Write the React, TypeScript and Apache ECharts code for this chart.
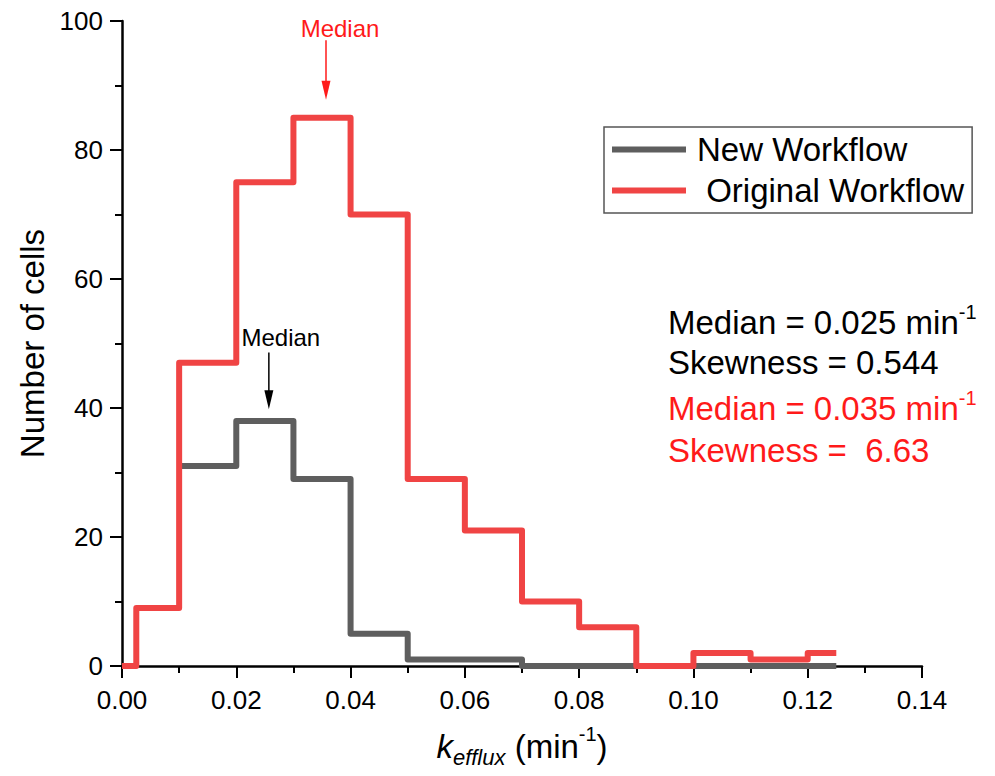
import React, { useEffect, useRef } from 'react';
import * as echarts from 'echarts';

const binEdges = [0, 0.0025, 0.01, 0.02, 0.03, 0.04, 0.05, 0.06, 0.07, 0.08, 0.09, 0.1, 0.11, 0.12, 0.125];
const newWorkflow: (number | null)[] = [null, null, 31, 38, 29, 5, 1, 1, 0, 0, 0, 0, 0, 0];
const originalWorkflow: (number | null)[] = [0, 9, 47, 75, 85, 70, 29, 21, 10, 6, 0, 2, 1, 2];
const seriesNames = ['New Workflow', ' Original Workflow'];
const statLines = [
  { text: 'Median = 0.025 min{sup|-1}', color: '#000000' },
  { text: 'Skewness = 0.544', color: '#000000' },
  { text: 'Median = 0.035 min{sup|-1}', color: '#ff1a1a' },
  { text: 'Skewness =  6.63', color: '#ff1a1a' },
];
const medianNew = 0.0257;
const medianOrig = 0.0357;

const FONT = '"Liberation Sans", Arial, Helvetica, sans-serif';

function toSteps(values: (number | null)[]) {
  const pts: (number | null)[][] = values.map((v, i) => [binEdges[i], v]);
  pts.push([binEdges[values.length], values[values.length - 1]]);
  return pts;
}

export default function App() {
  const ref = useRef<HTMLDivElement>(null);
  useEffect(() => {
    document.body.style.margin = '0';
    const chart = echarts.init(ref.current!, null, { renderer: 'svg' });
    chart.setOption({
      animation: false,
      backgroundColor: '#ffffff',
      textStyle: { fontFamily: FONT },
      grid: { left: 122, right: 73, top: 21, bottom: 110, containLabel: false },
      legend: {
        data: seriesNames,
        orient: 'vertical',
        left: 604,
        top: 127,
        icon: 'rect',
        itemWidth: 74,
        itemHeight: 6,
        itemGap: 8,
        padding: [6, 8, 6, 8],
        borderColor: '#555555',
        borderWidth: 1.5,
        textStyle: { fontSize: 33, color: '#000', fontFamily: FONT, padding: [0, 0, 0, 6] },
      },
      xAxis: {
        type: 'value',
        min: 0,
        max: 0.14,
        interval: 0.02,
        name: '{k|k}{sub|efflux} (min{sup|-1})',
        nameLocation: 'middle',
        nameGap: 58,
        nameTextStyle: {
          fontSize: 33,
          color: '#000',
          fontFamily: FONT,
          lineHeight: 44,
          rich: {
            k: { fontSize: 33, fontStyle: 'italic', fontFamily: FONT, color: '#000', lineHeight: 44 },
            sub: { fontSize: 22, fontStyle: 'italic', fontFamily: FONT, color: '#000', verticalAlign: 'bottom', lineHeight: 22 },
            sup: { fontSize: 20, fontFamily: FONT, color: '#000', verticalAlign: 'top', lineHeight: 20 },
          },
        },
        axisLine: { lineStyle: { color: '#000', width: 2.5 } },
        axisTick: { length: 12, lineStyle: { color: '#000', width: 2 } },
        minorTick: { show: true, splitNumber: 2, length: 7, lineStyle: { color: '#000', width: 2 } },
        splitLine: { show: false },
        axisLabel: {
          fontSize: 26,
          color: '#000',
          fontFamily: FONT,
          margin: 21,
          formatter: (v: number) => v.toFixed(2),
        },
      },
      yAxis: {
        type: 'value',
        min: 0,
        max: 100,
        interval: 20,
        name: 'Number of cells',
        nameLocation: 'middle',
        nameGap: 72,
        nameTextStyle: { fontSize: 33, color: '#000', fontFamily: FONT },
        axisLine: { show: true, lineStyle: { color: '#000', width: 2.5 } },
        axisTick: { show: true, length: 12, lineStyle: { color: '#000', width: 2 } },
        minorTick: { show: true, splitNumber: 2, length: 7, lineStyle: { color: '#000', width: 2 } },
        splitLine: { show: false },
        axisLabel: { fontSize: 26, color: '#000', fontFamily: FONT, margin: 19 },
      },
      series: [
        {
          name: seriesNames[0],
          type: 'line',
          step: 'end',
          data: toSteps(newWorkflow),
          connectNulls: false,
          showSymbol: false,
          symbol: 'none',
          itemStyle: { color: '#5e5e5e' },
          lineStyle: { color: '#5e5e5e', width: 6, join: 'round' },
          z: 2,
        },
        {
          name: seriesNames[1],
          type: 'line',
          step: 'end',
          data: toSteps(originalWorkflow),
          showSymbol: false,
          symbol: 'none',
          itemStyle: { color: '#f04444' },
          lineStyle: { color: '#f04444', width: 6, join: 'round' },
          z: 3,
        },
      ],
    });

    const redTop = chart.convertToPixel({ gridIndex: 0 }, [medianOrig, 97]) as number[];
    const redTip = chart.convertToPixel({ gridIndex: 0 }, [medianOrig, 87.8]) as number[];
    const blkTop = chart.convertToPixel({ gridIndex: 0 }, [medianNew, 48.6]) as number[];
    const blkTip = chart.convertToPixel({ gridIndex: 0 }, [medianNew, 39.8]) as number[];

    const arrow = (top: number[], tip: number[], color: string) => [
      {
        type: 'line',
        shape: { x1: top[0], y1: top[1], x2: tip[0], y2: tip[1] - 14 },
        style: { stroke: color, lineWidth: 1.5 },
        silent: true,
      },
      {
        type: 'polygon',
        shape: { points: [[tip[0] - 4.5, tip[1] - 19], [tip[0] + 4.5, tip[1] - 19], [tip[0], tip[1]]] },
        style: { fill: color },
        silent: true,
      },
    ];

    const statY = [322, 362, 408, 450];
    chart.setOption({
      graphic: [
        ...arrow(redTop, redTip, '#ff1a1a'),
        ...arrow(blkTop, blkTip, '#000000'),
        {
          type: 'text',
          x: redTop[0] + 14,
          y: redTop[1] - 12,
          style: { text: 'Median', fontSize: 24, fontFamily: FONT, fill: '#ff1a1a', align: 'center', verticalAlign: 'middle' },
        },
        {
          type: 'text',
          x: blkTop[0] + 12,
          y: blkTop[1] - 15,
          style: { text: 'Median', fontSize: 24, fontFamily: FONT, fill: '#000', align: 'center', verticalAlign: 'middle' },
        },
        ...statLines.map((s, i) => ({
          type: 'text',
          x: 668,
          y: statY[i],
          style: {
            text: s.text,
            fontSize: 33,
            fontFamily: FONT,
            fill: s.color,
            verticalAlign: 'middle',
            lineHeight: 40,
            rich: {
              sup: { fontSize: 20, fontFamily: FONT, fill: s.color, verticalAlign: 'top', lineHeight: 20 },
            },
          },
        })),
      ],
    });

    return () => chart.dispose();
  }, []);
  return <div ref={ref} style={{ width: 995, height: 776, position: 'absolute', left: 0, top: 0 }} />;
}
